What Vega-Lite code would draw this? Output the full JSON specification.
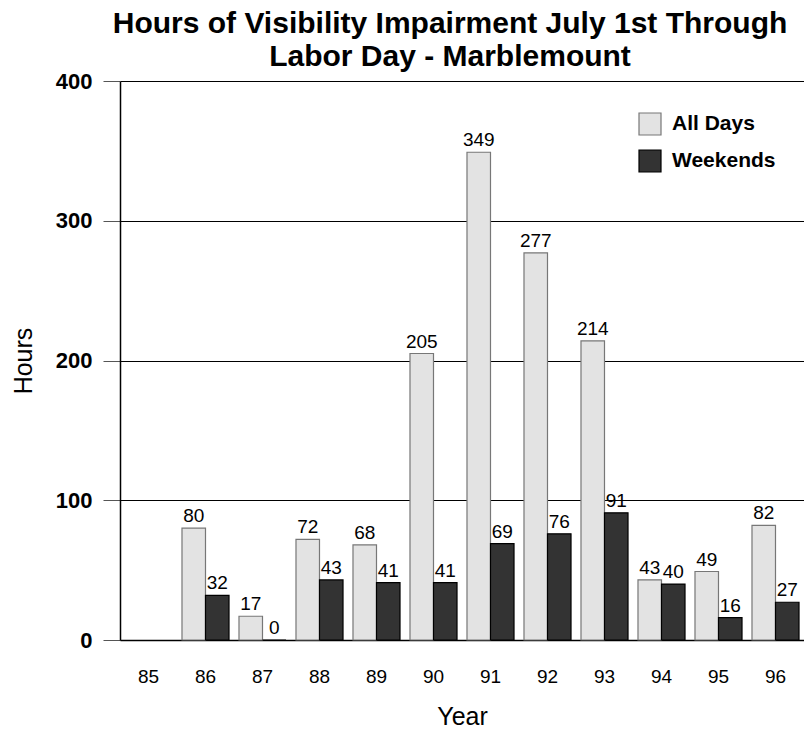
{
  "$schema": "https://vega.github.io/schema/vega-lite/v6.json",
  "autosize": {"type": "none"},
  "padding": {"left": 120, "top": 81, "right": 0, "bottom": 94},
  "width": 684,
  "height": 559,
  "background": "white",
  "config": {
    "font": "Liberation Sans",
    "view": {"stroke": null}
  },
  "title": {
    "text": ["Hours of Visibility Impairment July 1st Through", "Labor Day - Marblemount"],
    "font": "Liberation Sans",
    "fontSize": 30,
    "fontWeight": "bold",
    "lineHeight": 33,
    "anchor": "middle",
    "frame": "group",
    "offset": -2,
    "dx": -12,
    "color": "black"
  },
  "data": {
    "values": [
      {"year": "86", "series": "All Days", "hours": 80},
      {"year": "86", "series": "Weekends", "hours": 32},
      {"year": "87", "series": "All Days", "hours": 17},
      {"year": "87", "series": "Weekends", "hours": 0},
      {"year": "88", "series": "All Days", "hours": 72},
      {"year": "88", "series": "Weekends", "hours": 43},
      {"year": "89", "series": "All Days", "hours": 68},
      {"year": "89", "series": "Weekends", "hours": 41},
      {"year": "90", "series": "All Days", "hours": 205},
      {"year": "90", "series": "Weekends", "hours": 41},
      {"year": "91", "series": "All Days", "hours": 349},
      {"year": "91", "series": "Weekends", "hours": 69},
      {"year": "92", "series": "All Days", "hours": 277},
      {"year": "92", "series": "Weekends", "hours": 76},
      {"year": "93", "series": "All Days", "hours": 214},
      {"year": "93", "series": "Weekends", "hours": 91},
      {"year": "94", "series": "All Days", "hours": 43},
      {"year": "94", "series": "Weekends", "hours": 40},
      {"year": "95", "series": "All Days", "hours": 49},
      {"year": "95", "series": "Weekends", "hours": 16},
      {"year": "96", "series": "All Days", "hours": 82},
      {"year": "96", "series": "Weekends", "hours": 27}
    ]
  },
  "encoding": {
    "x": {
      "field": "year",
      "type": "nominal",
      "scale": {
        "domain": ["85", "86", "87", "88", "89", "90", "91", "92", "93", "94", "95", "96"],
        "paddingInner": 0.175,
        "paddingOuter": 0.0875
      },
      "axis": {
        "title": "Year",
        "titleFont": "Liberation Sans",
        "titleFontSize": 25,
        "titleFontWeight": "normal",
        "titleColor": "black",
        "titlePadding": 18,
        "labelAngle": 0,
        "labelFont": "Liberation Sans",
        "labelFontSize": 19,
        "labelColor": "black",
        "labelPadding": 27,
        "ticks": false,
        "domainColor": "black",
        "domainWidth": 1.5,
        "grid": false
      }
    },
    "xOffset": {
      "field": "series",
      "type": "nominal",
      "scale": {"domain": ["All Days", "Weekends"], "paddingInner": 0, "paddingOuter": 0}
    },
    "y": {
      "field": "hours",
      "type": "quantitative",
      "scale": {"domain": [0, 400], "nice": false},
      "axis": {
        "title": "Hours",
        "titleFont": "Liberation Sans",
        "titleFontSize": 25,
        "titleFontWeight": "normal",
        "titleColor": "black",
        "titlePadding": 19,
        "values": [0, 100, 200, 300, 400],
        "labelFont": "Liberation Sans",
        "labelFontSize": 22,
        "labelFontWeight": "bold",
        "labelColor": "black",
        "labelPadding": 11,
        "tickSize": 17,
        "tickColor": "#555",
        "domainColor": "black",
        "domainWidth": 1.5,
        "grid": true,
        "gridColor": "black",
        "gridWidth": 1,
        "gridOpacity": 1
      }
    }
  },
  "layer": [
    {
      "mark": {"type": "bar", "strokeWidth": 1.2},
      "encoding": {
        "fill": {
          "field": "series",
          "type": "nominal",
          "scale": {"domain": ["All Days", "Weekends"], "range": ["#e3e3e3", "#333333"]},
          "legend": {
            "title": null,
            "orient": "none",
            "legendX": 518,
            "legendY": 31,
            "padding": 0,
            "symbolType": "square",
            "symbolSize": 484,
            "symbolStrokeWidth": 1.2,
            "rowPadding": 9,
            "labelFont": "Liberation Sans",
            "labelFontSize": 21,
            "labelFontWeight": "bold",
            "labelColor": "black",
            "labelOffset": 10
          }
        },
        "stroke": {
          "field": "series",
          "type": "nominal",
          "scale": {"domain": ["All Days", "Weekends"], "range": ["#777777", "#000000"]},
          "legend": {
            "title": null,
            "orient": "none",
            "legendX": 518,
            "legendY": 31,
            "padding": 0,
            "symbolType": "square",
            "symbolSize": 484,
            "symbolStrokeWidth": 1.2,
            "rowPadding": 9,
            "labelFont": "Liberation Sans",
            "labelFontSize": 21,
            "labelFontWeight": "bold",
            "labelColor": "black",
            "labelOffset": 10
          }
        }
      }
    },
    {
      "mark": {
        "type": "text",
        "baseline": "alphabetic",
        "align": "center",
        "dy": -6,
        "font": "Liberation Sans",
        "fontSize": 19,
        "color": "black"
      },
      "encoding": {
        "text": {"field": "hours", "type": "quantitative"}
      }
    }
  ]
}
